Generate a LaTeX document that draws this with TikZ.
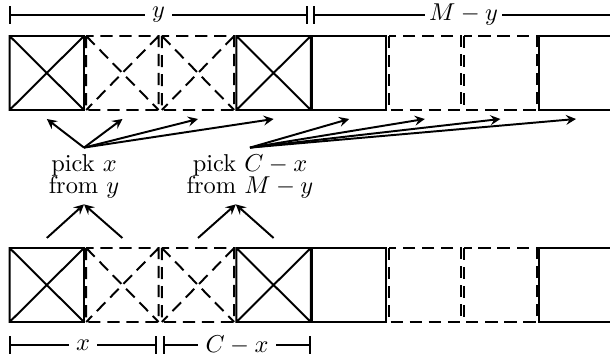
\documentclass[tikz,border=0pt]{standalone}
\usepackage{amsmath}
\usetikzlibrary{arrows,positioning,calc}
\tikzset{
  solidcell/.style={thick},
  dashcell/.style={thick, dash pattern=on 5pt off 2.8pt},
  dimline/.style={thick, |-|},
  dimlabel/.style={fill=white, inner xsep=3pt, inner ysep=0pt},
  picklabel/.style={align=center, inner sep=2.5pt},
  pickarrow/.style={thick, ->},
}

\begin{document}
\begin{tikzpicture}[x=0.41pt, y=-0.41pt, >=stealth]
    \useasboundingbox (0,0) rectangle (610,358);
    \clip (0,0) rectangle (610,358);

    % Lengths on top
    \draw[dimline] (9,15) -- node[dimlabel] {$y$} (308,15);
    \draw[dimline] (313,15) -- node[dimlabel, inner xsep=1.5pt] {$M-y$} (614,15);

    % Two rows of cells
    \foreach \top in {36,248} {
        % solid cells with a cross
        \foreach \i in {0,3} {
            \pgfmathsetmacro\l{9+75.6*\i+0.6}
            \draw[solidcell] (\l,\top) rectangle ++(74.4,74)
                (\l,\top) -- ++(74.4,74) ++(0,-74) -- ++(-74.4,74);
        }
        % solid cells, empty
        \foreach \i in {4,7} {
            \pgfmathsetmacro\l{9+75.6*\i+0.6}
            \draw[solidcell] (\l,\top) rectangle ++(74.4,74);
        }
        % dashed cells with a cross
        \foreach \i in {1,2} {
            \pgfmathsetmacro\l{9+75.6*\i+1.6}
            \draw[dashcell] (\l,\top) rectangle ++(72.4,74)
                (\l,\top) -- ++(72.4,74) ++(0,-74) -- ++(-72.4,74);
        }
        % dashed cells, empty
        \foreach \i in {5,6} {
            \pgfmathsetmacro\l{9+75.6*\i+1.6}
            \draw[dashcell] (\l,\top) rectangle ++(72.4,74);
        }
    }

    % Arrow ends below the top row, starts above the bottom row
    \foreach \j in {1,...,8} {
        \coordinate (ta\j) at ({9+75.6*(\j-0.5)}, 119);
    }
    \foreach \j in {1,...,4} {
        \coordinate (bs\j) at ({9+75.6*(\j-0.5)}, 238);
    }
    \coordinate (e3) at (235.8, 176);

    % Labels
    \node[picklabel] (pickx) at (84,176) {pick $x$\\[-3pt]from $y$};
    \node[picklabel] (pickc) at (250,176) {pick $C-x$\\[-3pt]from $M-y$};

    % Arrows up to the top row
    \foreach \j in {1,...,4} {
        \draw[pickarrow] (pickx.north) -- (ta\j);
    }
    \foreach \j in {5,...,8} {
        \draw[pickarrow] (pickc.north) -- (ta\j);
    }

    % Arrows from the bottom row
    \draw[pickarrow] (bs1) -- (pickx.south);
    \draw[pickarrow] (bs2) -- (pickx.south);
    \draw[pickarrow] (bs3) -- (pickc.south -| e3);
    \draw[pickarrow] (bs4) -- (pickc.south -| e3);

    % Lengths at the bottom
    \draw[dimline] (9,345) -- node[dimlabel] {$x$} (157,345);
    \draw[dimline] (163,345) -- node[dimlabel] {$C-x$} (311,345);
\end{tikzpicture}
\end{document}
